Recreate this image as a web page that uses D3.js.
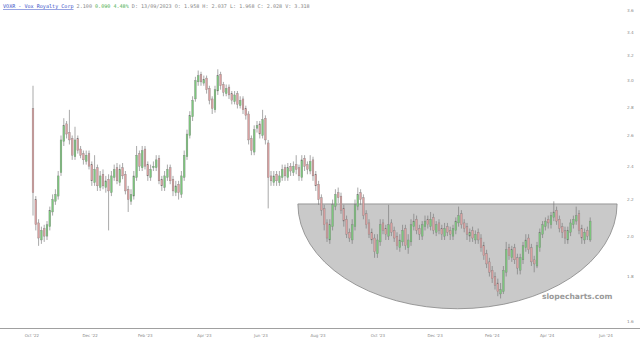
<!DOCTYPE html>
<html>
<head>
<meta charset="utf-8">
<script src="https://cdn.jsdelivr.net/npm/d3@7"></script>
<style>
  body { margin: 0; background: #fff; }
  svg { display: block; }
</style>
</head>
<body>
<svg id="chart"></svg>
<script>
// one candle per two trading days, Oct '22 -> May '24
const opens = [2.79,2.20,2.07,1.98,2.04,2.00,2.05,2.13,2.19,2.22,2.36,2.56,2.68,2.62,2.58,2.46,2.58,2.51,2.48,2.43,
  2.48,2.41,2.30,2.39,2.27,2.35,2.27,2.32,2.24,2.33,2.39,2.30,2.39,2.35,2.26,2.19,2.22,2.33,2.48,2.39,
  2.51,2.41,2.33,2.39,2.39,2.45,2.32,2.27,2.33,2.39,2.32,2.24,2.29,2.23,2.33,2.46,2.60,2.73,2.86,2.99,
  3.05,2.98,3.02,2.94,2.86,2.78,2.92,3.05,2.97,2.90,2.95,2.90,2.84,2.90,2.81,2.86,2.79,2.75,2.58,2.49,
  2.65,2.68,2.60,2.72,2.55,2.34,2.30,2.35,2.30,2.33,2.39,2.33,2.40,2.36,2.41,2.39,2.33,2.45,2.41,2.37,
  2.44,2.35,2.29,2.21,2.15,2.07,1.98,2.05,2.16,2.24,2.22,2.15,2.09,2.02,1.98,2.05,2.16,2.24,2.21,2.12,
  2.07,2.02,1.99,1.91,1.97,2.07,2.04,2.00,2.07,2.03,2.00,1.94,1.97,2.04,1.94,1.97,2.05,2.09,2.04,2.00,
  2.05,2.09,2.05,2.10,2.02,2.07,2.04,2.00,2.05,2.03,2.00,2.03,2.07,2.12,2.07,2.05,2.00,2.03,1.98,2.02,
  1.99,1.95,1.91,1.87,1.83,1.80,1.77,1.72,1.73,1.82,1.94,1.89,1.94,1.89,1.83,1.88,1.94,1.99,1.94,1.88,
  1.85,1.94,2.01,2.05,2.09,2.06,2.10,2.14,2.09,2.05,2.03,1.98,2.02,2.06,2.08,2.12,2.04,1.98,2.03,1.98];
const highs = [2.96,2.22,2.09,2.05,2.06,2.08,2.16,2.23,2.26,2.37,2.60,2.72,2.70,2.78,2.60,2.66,2.60,2.53,2.50,2.50,
  2.50,2.43,2.47,2.41,2.37,2.38,2.34,2.35,2.37,2.41,2.42,2.41,2.42,2.37,2.28,2.26,2.37,2.53,2.50,2.53,
  2.53,2.43,2.41,2.43,2.47,2.47,2.34,2.37,2.41,2.41,2.34,2.31,2.31,2.37,2.50,2.64,2.77,2.88,3.03,3.08,
  3.07,3.04,3.04,2.96,2.88,2.96,3.09,3.07,2.99,2.97,2.97,2.92,2.92,2.92,2.88,2.88,2.81,2.77,2.60,2.67,
  2.70,2.70,2.78,2.74,2.57,2.37,2.37,2.37,2.37,2.41,2.41,2.42,2.42,2.43,2.47,2.41,2.47,2.47,2.43,2.47,
  2.46,2.37,2.31,2.23,2.17,2.09,2.09,2.20,2.26,2.27,2.24,2.17,2.11,2.04,2.09,2.20,2.27,2.26,2.23,2.14,
  2.09,2.04,2.01,2.01,2.09,2.09,2.06,2.17,2.09,2.05,2.02,2.01,2.06,2.06,2.01,2.09,2.12,2.11,2.06,2.08,
  2.11,2.11,2.13,2.12,2.08,2.09,2.06,2.07,2.07,2.05,2.06,2.10,2.16,2.14,2.09,2.07,2.04,2.05,2.03,2.04,
  2.01,1.97,1.93,1.89,1.85,1.82,1.79,1.77,1.85,1.97,1.96,1.95,1.96,1.91,1.91,1.97,2.01,2.01,1.96,1.90,
  1.97,2.04,2.08,2.10,2.11,2.13,2.19,2.16,2.11,2.07,2.05,2.05,2.09,2.11,2.16,2.14,2.06,2.04,2.05,2.10];
const lows = [2.11,2.03,1.95,1.96,1.97,1.98,2.03,2.11,2.17,2.20,2.34,2.53,2.58,2.54,2.44,2.44,2.48,2.45,2.41,2.41,
  2.38,2.28,2.28,2.25,2.25,2.26,2.24,2.03,2.22,2.31,2.29,2.28,2.32,2.23,2.13,2.17,2.20,2.31,2.37,2.37,
  2.38,2.31,2.31,2.37,2.37,2.29,2.25,2.25,2.31,2.29,2.22,2.22,2.20,2.21,2.31,2.44,2.58,2.70,2.84,2.96,
  2.96,2.96,2.90,2.82,2.75,2.76,2.89,2.93,2.88,2.88,2.86,2.82,2.82,2.79,2.79,2.75,2.71,2.54,2.47,2.47,
  2.62,2.58,2.58,2.54,2.15,2.28,2.28,2.28,2.28,2.31,2.31,2.31,2.34,2.34,2.35,2.31,2.31,2.37,2.35,2.35,
  2.31,2.25,2.17,2.11,2.03,1.97,1.96,2.03,2.14,2.18,2.12,2.05,1.99,1.97,1.96,2.03,2.14,2.17,2.09,2.04,
  1.99,1.96,1.89,1.89,1.95,2.01,1.98,1.98,2.00,1.97,1.93,1.92,1.95,1.93,1.91,1.95,2.03,2.01,1.98,1.98,
  2.03,2.04,2.03,2.01,2.00,2.01,1.98,1.98,2.00,1.98,1.98,2.01,2.05,2.04,2.02,1.98,1.97,1.97,1.96,1.96,
  1.92,1.88,1.84,1.80,1.77,1.74,1.71,1.70,1.72,1.80,1.88,1.87,1.86,1.81,1.81,1.86,1.92,1.91,1.85,1.82,
  1.84,1.92,1.99,2.03,2.04,2.04,2.08,2.06,2.02,1.99,1.96,1.96,2.00,2.04,2.06,2.01,1.96,1.96,1.98,1.97];
const closes = [2.24,2.06,1.99,2.03,2.00,2.06,2.14,2.20,2.23,2.34,2.57,2.67,2.61,2.57,2.47,2.57,2.50,2.47,2.44,2.47,
  2.40,2.31,2.38,2.28,2.34,2.28,2.31,2.25,2.34,2.38,2.31,2.38,2.34,2.25,2.20,2.23,2.34,2.47,2.40,2.50,
  2.40,2.34,2.38,2.40,2.44,2.31,2.28,2.34,2.38,2.31,2.25,2.28,2.24,2.34,2.47,2.61,2.74,2.85,3.00,3.04,
  2.99,3.01,2.93,2.85,2.79,2.93,3.04,2.96,2.91,2.94,2.89,2.85,2.89,2.82,2.85,2.78,2.74,2.57,2.50,2.64,
  2.67,2.61,2.71,2.57,2.33,2.31,2.34,2.31,2.34,2.38,2.34,2.39,2.37,2.40,2.38,2.34,2.44,2.40,2.38,2.43,
  2.34,2.28,2.20,2.14,2.06,1.99,2.06,2.17,2.23,2.21,2.14,2.08,2.01,1.99,2.06,2.17,2.23,2.20,2.11,2.06,
  2.01,1.98,1.92,1.98,2.06,2.03,2.01,2.06,2.02,1.99,1.95,1.98,2.03,1.95,1.98,2.06,2.08,2.03,2.01,2.06,
  2.08,2.06,2.09,2.03,2.06,2.03,2.01,2.04,2.02,2.01,2.04,2.08,2.11,2.06,2.04,2.01,2.02,1.99,2.01,1.98,
  1.94,1.90,1.86,1.82,1.79,1.76,1.73,1.74,1.83,1.93,1.90,1.93,1.88,1.84,1.89,1.95,1.98,1.93,1.87,1.86,
  1.95,2.02,2.06,2.08,2.07,2.11,2.13,2.08,2.04,2.02,1.99,2.03,2.07,2.09,2.11,2.03,1.99,2.02,2.00,2.08];

const tickLabels = ["Oct '22","Dec '22","Feb '23","Apr '23","Jun '23","Aug '23","Oct '23","Dec '23","Feb '24","Apr '24","Jun '24"];
const tickIndex = [-0.4, 20.4, 40.1, 61.2, 81.4, 101.8, 123.2, 143.6, 164, 183.6, 204.6];
const priceTicks = [1.6, 1.8, 2.0, 2.2, 2.4, 2.6, 2.8, 3.0, 3.2, 3.4, 3.6];

// rounded-bottom annotation (index span, rim price, base price)
const cupFrom = 94.6, cupTo = 208.6, cupRim = 2.175, cupBase = 1.655;

const WIDTH = 640, HEIGHT = 343;
const svg = d3.select('#chart').attr('width', WIDTH).attr('height', HEIGHT);

const x = d3.scaleLinear().domain([0, closes.length - 1]).range([33, 590.2]);
const y = d3.scaleLog().domain([1.6, 3.6]).range([321.7, 10.7]);

// title line
const title = svg.append('text')
   .attr('x', 3).attr('y', 8)
   .attr('font-family', 'DejaVu Sans Mono, monospace')
   .attr('font-size', 5.1)
   .attr('fill', '#888');
title.append('tspan').attr('fill', '#3a52c8').attr('text-decoration', 'underline').text('VOXR - Vox Royalty Corp');
title.append('tspan').text(' 2.100 ');
title.append('tspan').attr('fill', '#4caf50').text('0.090 4.48%');
title.append('tspan').text(' D: 13/09/2023 O: 1.958 H: 2.037 L: 1.968 C: 2.028 V: 3.318');

// cup shape
const cx0 = x(cupFrom), cx1 = x(cupTo), cyTop = y(cupRim), cyBot = y(cupBase);
svg.append('path')
   .attr('d', `M${cx0},${cyTop} A${(cx1 - cx0) / 2},${cyBot - cyTop} 0 0 0 ${cx1},${cyTop} Z`)
   .attr('fill', '#c9c9c9')
   .attr('stroke', '#858585')
   .attr('stroke-width', 0.8);

// watermark
svg.append('text')
   .attr('x', 542).attr('y', 299)
   .attr('font-family', 'DejaVu Sans, sans-serif')
   .attr('font-weight', 'bold')
   .attr('font-size', 7.6)
   .attr('fill', '#9a9a9a')
   .text('slopecharts.com');

// candles
const data = closes.map((c, i) => ({i: i, o: opens[i], h: highs[i], l: lows[i], c: c}));
const bw = 1.8;
const g = svg.append('g');
g.selectAll('line.wick')
   .data(data).enter().append('line')
   .attr('x1', d => x(d.i)).attr('x2', d => x(d.i))
   .attr('y1', d => y(d.h)).attr('y2', d => y(d.l))
   .attr('stroke', '#6e6e6e')
   .attr('stroke-width', 0.6);
g.selectAll('rect.body')
   .data(data).enter().append('rect')
   .attr('x', d => x(d.i) - bw / 2)
   .attr('width', bw)
   .attr('y', d => y(Math.max(d.o, d.c)))
   .attr('height', d => Math.max(0.6, Math.abs(y(d.o) - y(d.c))))
   .attr('fill', d => d.c >= d.o ? '#7cc67c' : '#d9a0a0')
   .attr('stroke', '#777')
   .attr('stroke-width', 0.3);

// right price axis
svg.append('g').selectAll('text')
   .data(priceTicks).enter().append('text')
   .attr('x', 627).attr('y', d => y(d) + 1.5)
   .attr('font-family', 'DejaVu Sans, sans-serif')
   .attr('font-size', 4.2)
   .attr('fill', '#888')
   .text(d => d.toFixed(1));

// bottom axis
svg.append('line')
   .attr('x1', 0).attr('x2', WIDTH).attr('y1', 328.5).attr('y2', 328.5)
   .attr('stroke', '#a0a0a0').attr('stroke-width', 1);
svg.append('g').selectAll('text')
   .data(tickLabels).enter().append('text')
   .attr('x', (d, k) => x(tickIndex[k]))
   .attr('y', 337)
   .attr('text-anchor', 'middle')
   .attr('font-family', 'DejaVu Sans, sans-serif')
   .attr('font-size', 4)
   .attr('fill', '#888')
   .text(d => d);
</script>
</body>
</html>
